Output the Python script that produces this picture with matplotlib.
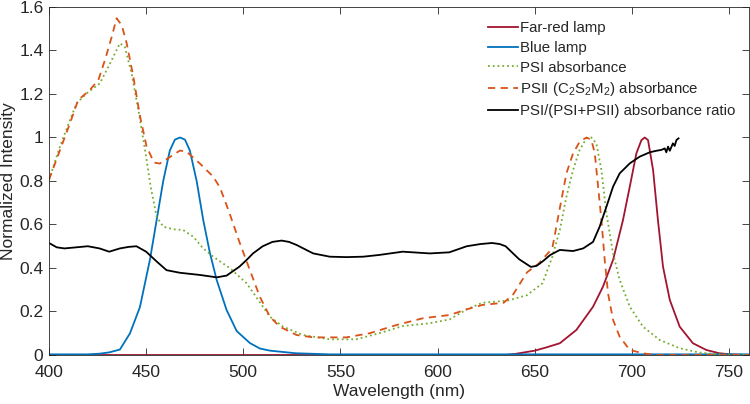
import matplotlib
matplotlib.use("Agg")
import matplotlib.pyplot as plt

plt.rcParams['font.family'] = ['Liberation Sans', 'DejaVu Sans']
plt.rcParams['mathtext.fontset'] = 'custom'
plt.rcParams['mathtext.rm'] = 'Liberation Sans'
plt.rcParams['mathtext.it'] = 'Liberation Sans'

# ---- data ----
psii_wl = [400, 405.7, 410.8, 415, 421, 425.4, 428.8, 432.3, 434.8, 437.4, 440, 443.4, 446.8, 450.2,
           454, 457, 462.2, 467.4, 470.8, 477.7, 484.5, 488, 493, 498, 503.4, 508.5, 513.7, 518.8,
           527.4, 536, 553, 565, 578.9, 592.5, 606.3, 615, 623, 634, 639, 646, 652, 659, 663,
           666.3, 669.7, 673.1, 676.6, 679.1, 680.9, 682.6, 684.3, 686, 687.7, 690.3, 693.7, 698.9,
           705.7, 712, 760]
psii_val = [0.805, 0.943, 1.065, 1.172, 1.218, 1.264, 1.356, 1.463, 1.548, 1.517, 1.433, 1.28, 1.10,
            0.96, 0.885, 0.88, 0.91, 0.94, 0.935, 0.88, 0.82, 0.77, 0.65, 0.52, 0.39, 0.268, 0.176,
            0.13, 0.092, 0.081, 0.081, 0.10, 0.138, 0.169, 0.184, 0.21, 0.23, 0.24, 0.28, 0.38, 0.42,
            0.49, 0.68, 0.835, 0.927, 0.98, 1.0, 0.99, 0.927, 0.774, 0.62, 0.437, 0.284, 0.161,
            0.084, 0.023, 0.008, 0.0, 0.0]

psi_wl = [400, 405.7, 410.8, 414.2, 419.4, 426.2, 431.4, 436.5, 439, 442.5, 446, 449.4, 452.4, 455.4,
          458.8, 463.9, 469, 474.2, 479.4, 484.5, 493, 501.7, 507.7, 513.7, 520.5, 530.8, 544.5,
          558, 570, 582, 596, 606.3, 615, 623, 636, 646, 654, 659, 662.9, 666.3, 669.7, 673.1,
          676.6, 679.1, 681.7, 684.3, 686.9, 690.3, 693.7, 698.9, 705.7, 714.3, 724.6, 734.9, 745,
          760]
psi_val = [0.805, 0.96, 1.08, 1.157, 1.203, 1.249, 1.34, 1.433, 1.418, 1.295, 1.126, 0.945, 0.77,
           0.636, 0.59, 0.578, 0.575, 0.544, 0.49, 0.452, 0.40, 0.33, 0.253, 0.176, 0.13, 0.092,
           0.072, 0.072, 0.10, 0.133, 0.146, 0.164, 0.21, 0.24, 0.25, 0.275, 0.33, 0.45, 0.575,
           0.728, 0.85, 0.943, 0.996, 1.0, 0.973, 0.85, 0.65, 0.467, 0.345, 0.222, 0.13, 0.069,
           0.031, 0.011, 0.003, 0.0]

blue_wl = [400, 420, 426, 431, 436.5, 441.7, 446.8, 452, 455.4, 458.8, 462.2, 464.8, 467.4, 470,
           472.5, 476, 479.4, 482.8, 486.3, 491.4, 496.6, 503.4, 508.5, 513.7, 527, 544.5, 760]
blue_val = [0.003, 0.003, 0.006, 0.012, 0.025, 0.10, 0.22, 0.44, 0.62, 0.80, 0.94, 0.99, 1.0, 0.99,
            0.94, 0.80, 0.62, 0.47, 0.345, 0.207, 0.11, 0.055, 0.03, 0.02, 0.008, 0.003, 0.003]

farred_wl = [400, 635, 640, 650, 656, 662.9, 671.4, 680, 685.1, 690.3, 695.4, 698.9, 702.3, 704.9,
             706.6, 708.3, 710.9, 713.4, 716, 719.5, 724.6, 731.4, 738.3, 745, 752, 760]
farred_val = [0.0, 0.0, 0.005, 0.02, 0.035, 0.054, 0.115, 0.222, 0.314, 0.437, 0.62, 0.774, 0.927,
              0.988, 1.0, 0.988, 0.85, 0.62, 0.406, 0.253, 0.13, 0.054, 0.023, 0.008, 0.002, 0.0]

ratio_wl = [400, 404, 408, 414, 420, 426, 431, 436.5, 441, 445, 450, 455.4, 460.5, 467.4, 477.7,
            486.3, 491.4, 498, 501.7, 505, 510, 515, 519.7, 523.5, 527.4, 532, 536, 544.5, 553,
            561.7, 570, 582, 596, 606, 615, 622, 628, 632, 635, 642, 648, 651, 654, 658, 662.9,
            669.7, 674.9, 680, 683.4, 686.9, 690.3, 693.7, 698.9, 704, 709.2, 712.6, 715.2, 716.9,
            717.7, 718.6, 719.5, 721.1, 722, 722.9, 724]
ratio_val = [0.515, 0.495, 0.49, 0.495, 0.50, 0.49, 0.475, 0.49, 0.497, 0.50, 0.475, 0.43, 0.39,
             0.378, 0.368, 0.357, 0.365, 0.406, 0.437, 0.467, 0.50, 0.52, 0.526, 0.52, 0.506, 0.485,
             0.467, 0.452, 0.45, 0.452, 0.46, 0.475, 0.467, 0.472, 0.50, 0.51, 0.515, 0.51, 0.50,
             0.44, 0.405, 0.41, 0.43, 0.46, 0.483, 0.478, 0.49, 0.52, 0.59, 0.682, 0.774, 0.835,
             0.881, 0.912, 0.932, 0.939, 0.943, 0.95, 0.932, 0.958, 0.939, 0.973, 0.961, 0.988,
             0.996]

labels = ['Far-red lamp', 'Blue lamp', 'PSI absorbance',
          r'PSII (C$_2$S$_2$M$_2$) absorbance', 'PSI/(PSI+PSII) absorbance ratio']
xticks = [400, 450, 500, 550, 600, 650, 700, 750]
yticks = [0, 0.2, 0.4, 0.6, 0.8, 1, 1.2, 1.4, 1.6]
ytick_labels = ['0', '0.2', '0.4', '0.6', '0.8', '1', '1.2', '1.4', '1.6']

# ---- plot ----
fig = plt.figure(figsize=(7.5, 4.04), dpi=100)
ax = fig.add_axes([0.0653, 0.1213, 0.9327, 0.8614])

lw = 1.3
ax.plot(farred_wl, farred_val, color='#A2142F', lw=lw, label=labels[0])
ax.plot(blue_wl, blue_val, color='#0072BD', lw=lw, label=labels[1])
ax.plot(psi_wl, psi_val, color='#77AC30', lw=lw, ls=':', label=labels[2])
ax.plot(psii_wl, psii_val, color='#D95319', lw=lw, ls=(0, (4, 3)), label=labels[3])
ax.plot(ratio_wl, ratio_val, color='black', lw=lw, label=labels[4])

ax.set_xlim(400, 760)
ax.set_ylim(0, 1.6)
ax.set_xticks(xticks)
ax.set_yticks(yticks)
ax.set_yticklabels(ytick_labels)
ax.tick_params(direction='in', top=True, right=True, labelsize=12.5, length=5, width=0.6,
               colors='#262626')
ax.tick_params(axis='x', pad=7)
ax.tick_params(axis='y', pad=4)
for s in ax.spines.values():
    s.set_linewidth(0.6)
    s.set_color('#262626')
ax.set_xlabel('Wavelength (nm)', fontsize=12.5, color='#262626', labelpad=3)
ax.set_ylabel('Normalized Intensity', fontsize=12.5, color='#262626', labelpad=2)

leg = ax.legend(loc='upper right', frameon=False, fontsize=10.8, handlelength=2.0,
                handletextpad=0.15, labelspacing=0.38, borderaxespad=0.2,
                bbox_to_anchor=(0.994, 0.985))
for t in leg.get_texts():
    t.set_color('#262626')

fig.savefig('out.png', dpi=100)
